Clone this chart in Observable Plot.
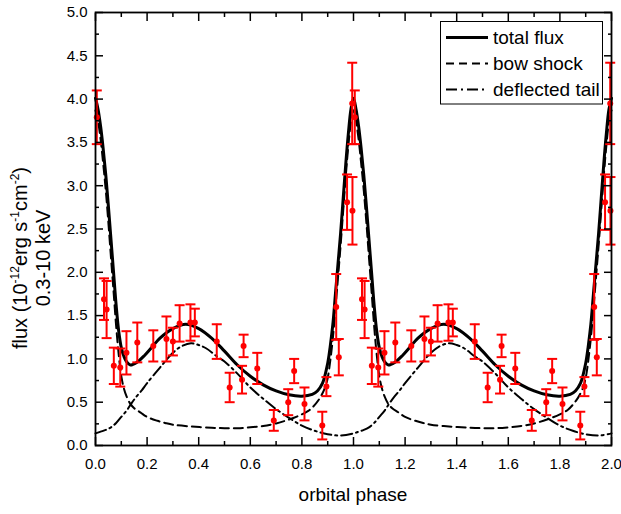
<!DOCTYPE html>
<html><head><meta charset="utf-8">
<script src="https://cdn.jsdelivr.net/npm/d3@7"></script>
<script src="https://cdn.jsdelivr.net/npm/@observablehq/plot@0.6"></script>
<style>
body{margin:0;background:#fff;}
#chart{position:relative;width:621px;height:514px;}
</style></head><body><div id="chart"></div>
<script>
// Observed data (one orbital cycle, shown twice)
const obsPhase = [0.005, 0.033, 0.043, 0.071, 0.096, 0.120, 0.162, 0.224, 0.275, 0.300, 0.326, 0.368, 0.385, 0.470, 0.520, 0.568, 0.574, 0.627, 0.691, 0.747, 0.770, 0.810, 0.879, 0.895, 0.933, 0.943, 0.975, 0.995, 0.996];
const obsFlux  = [3.79, 1.69, 1.57, 0.92, 0.90, 1.07, 1.19, 1.15, 1.23, 1.20, 1.41, 1.42, 1.42, 1.20, 0.67, 0.76, 1.15, 0.89, 0.29, 0.50, 0.86, 0.48, 0.23, 0.68, 1.60, 1.02, 2.81, 3.95, 2.71];
const obsErr   = [0.31, 0.24, 0.33, 0.21, 0.22, 0.25, 0.23, 0.18, 0.26, 0.16, 0.21, 0.21, 0.16, 0.20, 0.17, 0.16, 0.13, 0.18, 0.12, 0.15, 0.14, 0.19, 0.16, 0.11, 0.38, 0.21, 0.32, 0.47, 0.39];

// Model curves (one cycle)
const totalPhase = [0, 0.01, 0.02, 0.03, 0.04, 0.05, 0.06, 0.07, 0.08, 0.09, 0.10, 0.11, 0.12, 0.135, 0.16, 0.19, 0.22, 0.25, 0.30, 0.35, 0.40, 0.45, 0.50, 0.55, 0.60, 0.65, 0.70, 0.75, 0.80, 0.84, 0.86, 0.88, 0.90, 0.91, 0.92, 0.93, 0.94, 0.95, 0.96, 0.97, 0.98, 0.99];
const totalFlux  = [4.01, 3.88, 3.68, 3.42, 3.12, 2.76, 2.38, 2.00, 1.62, 1.32, 1.13, 1.03, 0.97, 0.93, 0.96, 1.04, 1.14, 1.24, 1.35, 1.40, 1.35, 1.24, 1.09, 0.93, 0.80, 0.70, 0.63, 0.585, 0.57, 0.59, 0.63, 0.72, 0.95, 1.15, 1.40, 1.75, 2.10, 2.45, 2.85, 3.25, 3.60, 3.88];

const bowPhase = [0, 0.01, 0.02, 0.03, 0.04, 0.05, 0.06, 0.07, 0.08, 0.09, 0.10, 0.11, 0.12, 0.135, 0.15, 0.175, 0.20, 0.24, 0.27, 0.30, 0.37, 0.45, 0.50, 0.55, 0.60, 0.65, 0.70, 0.75, 0.80, 0.83, 0.85, 0.87, 0.89, 0.90, 0.91, 0.92, 0.93, 0.94, 0.95, 0.96, 0.97, 0.98, 0.99];
const bowFlux  = [3.87, 3.74, 3.53, 3.25, 2.94, 2.57, 2.17, 1.78, 1.38, 1.05, 0.80, 0.66, 0.57, 0.48, 0.43, 0.38, 0.33, 0.285, 0.26, 0.24, 0.22, 0.205, 0.20, 0.20, 0.21, 0.225, 0.255, 0.30, 0.36, 0.41, 0.47, 0.55, 0.67, 0.78, 0.98, 1.24, 1.58, 1.94, 2.31, 2.71, 3.11, 3.46, 3.73];

const tailPhase = [0, 0.02, 0.04, 0.06, 0.08, 0.10, 0.12, 0.14, 0.16, 0.18, 0.20, 0.25, 0.30, 0.33, 0.37, 0.40, 0.43, 0.47, 0.50, 0.55, 0.60, 0.65, 0.70, 0.75, 0.80, 0.85, 0.90, 0.95];
const tailFlux  = [0.14, 0.16, 0.18, 0.21, 0.26, 0.33, 0.40, 0.49, 0.57, 0.64, 0.72, 0.90, 1.07, 1.14, 1.18, 1.16, 1.12, 1.03, 0.97, 0.83, 0.67, 0.54, 0.42, 0.32, 0.23, 0.17, 0.13, 0.115];

const cycles = [0, 1, 2];
const xMajor = [0, 0.2, 0.4, 0.6, 0.8, 1.0, 1.2, 1.4, 1.6, 1.8, 2.0];
const xMinor = [0.1, 0.3, 0.5, 0.7, 0.9, 1.1, 1.3, 1.5, 1.7, 1.9];
const yMajor = [0, 0.5, 1.0, 1.5, 2.0, 2.5, 3.0, 3.5, 4.0, 4.5, 5.0];
const yMinor = [0.25, 0.75, 1.25, 1.75, 2.25, 2.75, 3.25, 3.75, 4.25, 4.75];
const legendLabels = ["total flux", "bow shock", "deflected tail"];
const xLabel = "orbital phase";

function periodic(ph, fl) {
  const rows = [];
  for (const k of cycles) ph.forEach((p, i) => { if (p + k <= 2) rows.push({phase: p + k, flux: fl[i]}); });
  return rows;
}
const totalRows = periodic(totalPhase, totalFlux);
const bowRows = periodic(bowPhase, bowFlux);
const tailRows = periodic(tailPhase, tailFlux);
const obs = [];
for (const k of [0, 1]) obsPhase.forEach((p, i) => obs.push({phase: p + k, flux: obsFlux[i], err: obsErr[i]}));

const capSymbol = {draw(ctx, size) { const r = Math.sqrt(size / Math.PI); ctx.moveTo(-r, 0); ctx.lineTo(r, 0); }};
const font = "'Liberation Sans', Arial, sans-serif";
const fmt = d3.format(".1f");

const svg = Plot.plot({
  width: 621, height: 514,
  marginLeft: 95, marginRight: 10, marginTop: 12, marginBottom: 69,
  x: {domain: [0, 2]},
  y: {domain: [0, 5]},
  style: {fontFamily: font, background: "white", color: "black"},
  marks: [
    Plot.line(tailRows, {x: "phase", y: "flux", stroke: "black", strokeWidth: 2, strokeDasharray: "11,4,2,4", curve: "catmull-rom"}),
    Plot.line(bowRows, {x: "phase", y: "flux", stroke: "black", strokeWidth: 2, strokeDasharray: "9,5", curve: "catmull-rom"}),
    Plot.line(totalRows, {x: "phase", y: "flux", stroke: "black", strokeWidth: 3, curve: "catmull-rom"}),
    Plot.ruleX(obs, {x: "phase", y1: d => d.flux - d.err, y2: d => d.flux + d.err, stroke: "red", strokeWidth: 2}),
    Plot.dot(obs, {x: "phase", y: d => d.flux + d.err, r: 5, symbol: capSymbol, stroke: "red", strokeWidth: 2, fill: "none"}),
    Plot.dot(obs, {x: "phase", y: d => d.flux - d.err, r: 5, symbol: capSymbol, stroke: "red", strokeWidth: 2, fill: "none"}),
    Plot.dot(obs, {x: "phase", y: "flux", r: 3, fill: "red", stroke: "none"}),
    Plot.frame({stroke: "black", strokeWidth: 1.8}),
    Plot.axisX(xMajor, {anchor: "bottom", tickSize: -8, tickPadding: 21, tickFormat: fmt, fontSize: 15, label: null, strokeWidth: 1.5}),
    Plot.axisX(xMinor, {anchor: "bottom", tickSize: -4, tickFormat: () => "", label: null, strokeWidth: 1.5}),
    Plot.axisX(xMajor, {anchor: "top", tickSize: -8, tickFormat: () => "", label: null, strokeWidth: 1.5}),
    Plot.axisX(xMinor, {anchor: "top", tickSize: -4, tickFormat: () => "", label: null, strokeWidth: 1.5}),
    Plot.axisY(yMajor, {anchor: "left", tickSize: -8, tickPadding: 16, tickFormat: fmt, fontSize: 15, label: null, strokeWidth: 1.5}),
    Plot.axisY(yMinor, {anchor: "left", tickSize: -4, tickFormat: () => "", label: null, strokeWidth: 1.5}),
    Plot.axisY(yMajor, {anchor: "right", tickSize: -8, tickFormat: () => "", label: null, strokeWidth: 1.5}),
    Plot.axisY(yMinor, {anchor: "right", tickSize: -4, tickFormat: () => "", label: null, strokeWidth: 1.5})
  ]
});
document.getElementById("chart").appendChild(svg);

const s = d3.select(svg);
// x axis label
s.append("text").attr("x", 353).attr("y", 501).attr("text-anchor", "middle")
  .attr("font-family", font).attr("font-size", 19).attr("fill", "black").text(xLabel);
// y axis label (two lines, rotated)
const yl = s.append("g").attr("transform", "translate(0,258) rotate(-90)")
  .attr("font-family", font).attr("font-size", 20).attr("fill", "black");
const t1 = yl.append("text").attr("x", 0).attr("y", 27).attr("text-anchor", "middle");
t1.append("tspan").text("flux (10");
t1.append("tspan").attr("dy", -8).attr("font-size", 12).text("-12");
t1.append("tspan").attr("dy", 8).text("erg s");
t1.append("tspan").attr("dy", -8).attr("font-size", 12).text("-1");
t1.append("tspan").attr("dy", 8).text("cm");
t1.append("tspan").attr("dy", -8).attr("font-size", 12).text("-2");
t1.append("tspan").attr("dy", 8).text(")");
yl.append("text").attr("x", 0).attr("y", 50).attr("text-anchor", "middle").text("0.3-10 keV");

// legend
const lg = s.append("g").attr("font-family", font).attr("font-size", 19);
lg.append("rect").attr("x", 440.5).attr("y", 21.5).attr("width", 162).attr("height", 82.5)
  .attr("fill", "white").attr("stroke", "black").attr("stroke-width", 1);
const dashes = [null, "8,5", "11,4,2,4"];
const widths = [3, 2, 2];
legendLabels.forEach((lab, i) => {
  const y = 37.5 + i * 26;
  lg.append("line").attr("x1", 446).attr("x2", 488).attr("y1", y).attr("y2", y)
    .attr("stroke", "black").attr("stroke-width", widths[i]).attr("stroke-dasharray", dashes[i]);
  lg.append("text").attr("x", 493).attr("y", y).attr("dy", "0.35em").attr("text-anchor", "start")
    .attr("fill", "black").text(lab);
});
</script></body></html>
